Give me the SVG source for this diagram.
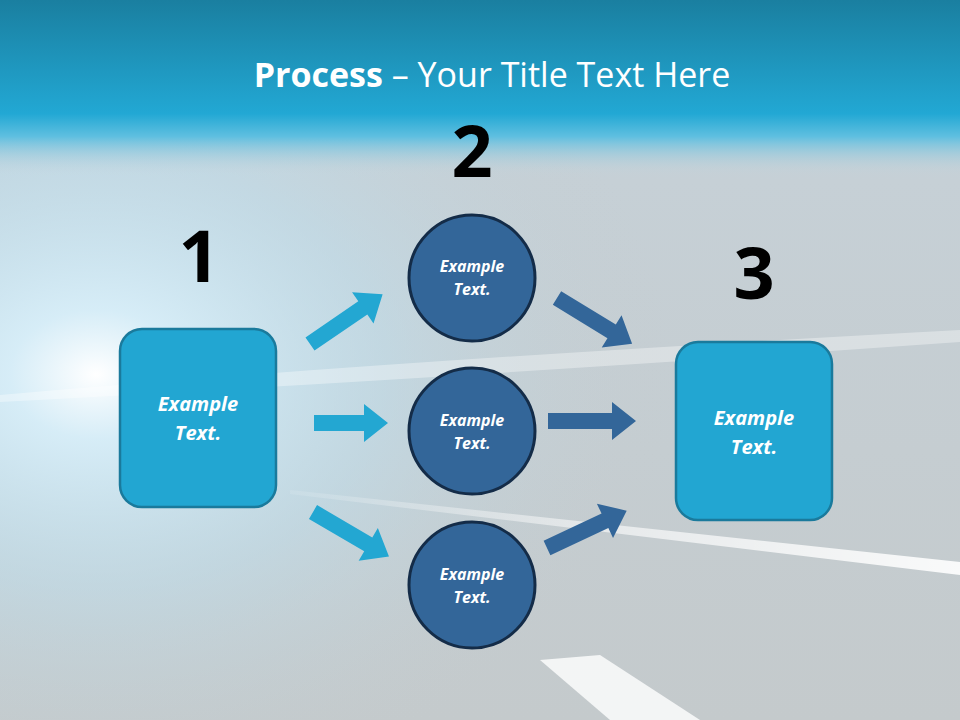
<svg xmlns="http://www.w3.org/2000/svg" width="960" height="720" viewBox="0 0 960 720">
<defs>
<linearGradient id="top" x1="0" y1="0" x2="0" y2="1">
<stop offset="0" stop-color="#1a7fa0"/><stop offset="0.65" stop-color="#22a8d4"/><stop offset="0.78" stop-color="#5fbfe0"/><stop offset="1" stop-color="#c8d2d8" stop-opacity="0"/>
</linearGradient>
<linearGradient id="fade" x1="0" y1="0" x2="0" y2="1">
<stop offset="0" stop-color="#b8dcea"/><stop offset="0.25" stop-color="#c6d0d6"/><stop offset="1" stop-color="#c4cacc"/>
</linearGradient>
<radialGradient id="flare" cx="0.1" cy="0.52" r="0.6">
<stop offset="0" stop-color="#ffffff"/><stop offset="0.15" stop-color="#d8f0fb" stop-opacity="0.9"/><stop offset="0.5" stop-color="#bfe3f3" stop-opacity="0.45"/><stop offset="1" stop-color="#c4cacc" stop-opacity="0"/>
</radialGradient>
<linearGradient id="streak" x1="0" y1="0" x2="1" y2="0">
<stop offset="0" stop-color="#fff" stop-opacity="0.1"/><stop offset="0.5" stop-color="#fff" stop-opacity="0.6"/><stop offset="1" stop-color="#fff" stop-opacity="0.9"/>
</linearGradient>
<polygon id="aL" points="0,-8 64,-8 64,-19 88,0 64,19 64,8 0,8"/>
<polygon id="aS" points="0,-8 50,-8 50,-19 74,0 50,19 50,8 0,8"/>
<style>
.box{fill:#22a6d2;stroke:#1a7a9c;stroke-width:2.5}
.circ{fill:#336699;stroke:#142c48;stroke-width:3}
.lt{fill:#23a7d2}.dk{fill:#336699}
.t{font-family:"Open Sans","Liberation Sans",sans-serif;font-style:italic;font-weight:bold;fill:#fff;text-anchor:middle}
.num{font-family:"Open Sans","Liberation Sans",sans-serif;font-weight:bold;font-size:72px;fill:#000;text-anchor:middle}
</style>
</defs>
<rect width="960" height="720" fill="url(#fade)"/>
<rect width="960" height="720" fill="url(#flare)"/>
<path d="M0,395 Q400,360 960,330 L960,342 Q450,378 0,402Z" fill="#ffffff" opacity="0.35"/>
<path d="M290,490 L960,562 L960,575 L290,494Z" fill="url(#streak)"/>
<path d="M540,660 L600,655 L700,720 L610,720Z" fill="#ffffff" opacity="0.8"/>
<rect width="960" height="175" fill="url(#top)"/>
<text x="492" y="87" font-family="'Open Sans','Liberation Sans',sans-serif" font-size="34" fill="#fff" text-anchor="middle"><tspan font-weight="bold">Process</tspan> – Your Title Text Here</text>
<text class="num" x="472" y="177">2</text>
<text class="num" x="199" y="282">1</text>
<text class="num" x="754" y="299">3</text>
<g id="connectors">
<use href="#aL" class="lt" transform="translate(310,344) rotate(-34.4)"/>
<use href="#aS" class="lt" transform="translate(314,423)"/>
<use href="#aL" class="lt" transform="translate(313,512) rotate(30.3)"/>
<use href="#aL" class="dk" transform="translate(557,298) rotate(31.4)"/>
<use href="#aL" class="dk" transform="translate(548,421)"/>
<use href="#aL" class="dk" transform="translate(547,548) rotate(-25.1)"/>
</g>
<g id="node1"><rect class="box" x="120" y="329" width="156" height="178" rx="22"/>
<text class="t" font-size="20" x="198" y="411">Example</text><text class="t" font-size="20" x="198" y="440">Text.</text></g>
<g id="node3"><rect class="box" x="676" y="342" width="156" height="178" rx="22"/>
<text class="t" font-size="20" x="754" y="425">Example</text><text class="t" font-size="20" x="754" y="454">Text.</text></g>
<g id="c1"><circle class="circ" cx="472" cy="278" r="63"/>
<text class="t" font-size="16" x="472" y="272">Example</text><text class="t" font-size="16" x="472" y="295">Text.</text></g>
<g id="c2"><circle class="circ" cx="472" cy="431" r="63"/>
<text class="t" font-size="16" x="472" y="426">Example</text><text class="t" font-size="16" x="472" y="449">Text.</text></g>
<g id="c3"><circle class="circ" cx="472" cy="585" r="63"/>
<text class="t" font-size="16" x="472" y="580">Example</text><text class="t" font-size="16" x="472" y="603">Text.</text></g>
</svg>
